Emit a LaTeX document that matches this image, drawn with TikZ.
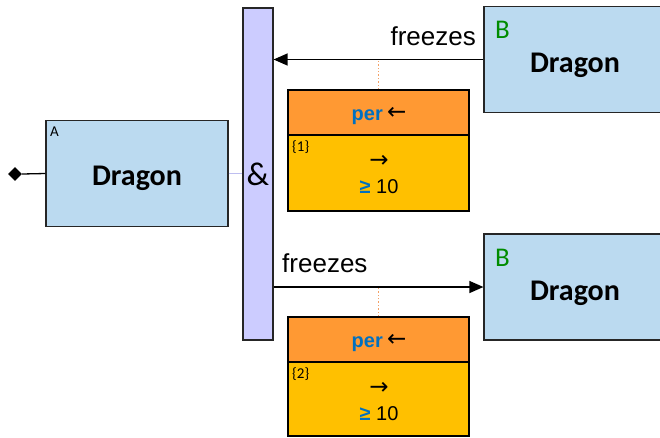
\documentclass[tikz,border=0pt]{standalone}
\usepackage{fontspec}
\setmainfont{Liberation Sans}
\newfontfamily\calfont{Carlito}
\newfontfamily\arrfont{DejaVu Sans}
\usetikzlibrary{arrows.meta,shapes.geometric,calc}
\definecolor{boxblue}{RGB}{187,218,240}
\definecolor{lav}{RGB}{204,204,255}
\definecolor{lavline}{RGB}{190,190,240}
\definecolor{hdrorange}{RGB}{255,153,51}
\definecolor{bodyyellow}{RGB}{255,192,0}
\definecolor{txtblue}{RGB}{0,112,192}
\definecolor{bgreen}{RGB}{0,140,0}
\definecolor{dotorange}{RGB}{244,160,100}
\begin{document}
\begin{tikzpicture}[x=1pt,y=-1pt,
  dbox/.style={draw=black!85,line width=1.2pt,fill=boxblue,inner sep=0,
    minimum width=182pt,minimum height=106pt},
  dtxt/.style={font=\calfont\bfseries\fontsize{30}{36}\selectfont,inner sep=0,anchor=base},
  hdr/.style={draw=black,line width=1.2pt,fill=hdrorange,inner sep=0,
    minimum width=181pt,minimum height=45pt},
  bodybox/.style={draw=black,line width=1.2pt,fill=bodyyellow,inner sep=0,
    minimum width=181pt},
  ctxt/.style={font=\fontsize{20}{24}\selectfont,inner sep=0,anchor=base},
  arrtxt/.style={font=\arrfont\fontsize{23}{26}\selectfont,inner sep=0},
  arr/.style={line width=1.3pt,-{Triangle[length=14pt,width=12pt]}},
  lbl/.style={font=\fontsize{26}{30}\selectfont,inner sep=0},
  small/.style={font=\calfont\fontsize{15}{17}\selectfont,inner sep=0},
  tiny/.style={font=\calfont\fontsize{15}{17}\selectfont,inner sep=0},
  bl/.style={font=\calfont\fontsize{27}{30}\selectfont,text=bgreen,inner sep=0},
  dotline/.style={draw=dotorange,line width=1.4pt,dotted}]
\useasboundingbox (0,0) rectangle (660,437);
\clip (0,0) rectangle (660,437);
% left box A
\node[dbox] (A) at (137,173.5) {};
\node[dtxt] (At) at (137,185) {Dragon};
\node[small,anchor=base west] (Al) at (50,136) {A};
\node[diamond,fill=black,inner sep=0,minimum width=14pt,minimum height=14pt] (dm) at (15,174) {};
\draw[line width=1.3pt] (dm.east) -- (A.west);
% bar
\node[draw=black!85,line width=1.2pt,fill=lav,inner sep=0,minimum width=30pt,minimum height=332pt,
  font=\calfont\fontsize{33}{36}\selectfont] (bar) at (258,174) {\&};
\draw[draw=lavline,line width=1.5pt] (A.east) -- (A.east -| bar.west);
% B boxes
\node[dbox] (B1) at (575,59.5) {};
\node[dtxt] (B1t) at (575,72) {Dragon};
\node[bl,anchor=base west] (B1l) at (495,38) {B};
\node[dbox] (B2) at (575,287) {};
\node[dtxt] (B2t) at (575,300) {Dragon};
\node[bl,anchor=base west] (B2l) at (495,266) {B};
% arrows
\draw[arr] (B1.west) -- (B1.west -| bar.east);
\node[lbl,anchor=base east] (f1) at (476,45) {freezes};
\draw[arr] (B2.west -| bar.east) -- (B2.west);
\node[lbl,anchor=base west] (f2) at (282,272) {freezes};
% condition box 1
\node[hdr] (H1) at (378.5,112.5) {};
\node[bodybox,minimum height=76pt] (C1) at (378.5,173) {};
\node[ctxt,anchor=base east] (p1) at (383,120) {\textcolor{txtblue}{\bfseries per}};
\node[arrtxt,anchor=west] (la1) at (387,113) {←};
\node[arrtxt] (ra1) at (379,161) {→};
\node[ctxt] (g1) at (379,193) {\textcolor{txtblue}{\bfseries ≥} 10};
\node[tiny,anchor=base west] (n1) at (292,151) {\{1\}};
\draw[dotline] (H1.north) -- (H1.north |- B1.west);
% condition box 2
\node[hdr] (H2) at (378.5,339.5) {};
\node[bodybox,minimum height=74pt] (C2) at (378.5,399) {};
\node[ctxt,anchor=base east] (p2) at (383,347) {\textcolor{txtblue}{\bfseries per}};
\node[arrtxt,anchor=west] (la2) at (387,340) {←};
\node[arrtxt] (ra2) at (379,388) {→};
\node[ctxt] (g2) at (379,420) {\textcolor{txtblue}{\bfseries ≥} 10};
\node[tiny,anchor=base west] (n2) at (292,378) {\{2\}};
\draw[dotline] (H2.north) -- (H2.north |- B2.west);
\end{tikzpicture}
\end{document}
